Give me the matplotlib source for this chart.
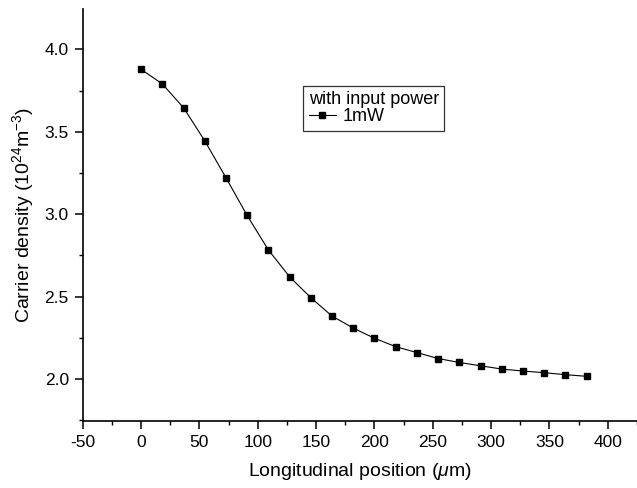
import matplotlib
matplotlib.use("Agg")
import matplotlib.pyplot as plt
from matplotlib.ticker import MultipleLocator

plt.rcParams['font.family'] = ['Liberation Sans', 'DejaVu Sans']
plt.rcParams['mathtext.fontset'] = 'custom'
plt.rcParams['mathtext.rm'] = 'Liberation Sans'
plt.rcParams['mathtext.it'] = 'Liberation Sans:italic'
plt.rcParams['axes.unicode_minus'] = False

position_um = [0, 18.2, 36.4, 54.5, 72.7, 90.9, 109.1, 127.3, 145.5, 163.6, 181.8,
               200.0, 218.2, 236.4, 254.5, 272.7, 290.9, 309.1, 327.3, 345.5, 363.6, 381.8]
carrier_density = [3.879, 3.790, 3.646, 3.446, 3.222, 2.992, 2.783, 2.620, 2.493, 2.382, 2.309,
                   2.247, 2.196, 2.160, 2.124, 2.100, 2.080, 2.060, 2.048, 2.038, 2.026, 2.016]
series_label = "1mW"
legend_title = "with input power"
x_ticks = [-50, 0, 50, 100, 150, 200, 250, 300, 350, 400]
y_ticks = [2.0, 2.5, 3.0, 3.5, 4.0]

fig = plt.figure(figsize=(6.37, 4.88), dpi=100)
ax = fig.add_axes([0.1298, 0.138, 0.8702, 0.843])

ax.plot(position_um, carrier_density, color='black', linewidth=0.8,
        marker='s', markersize=5.0, markerfacecolor='black', markeredgecolor='black',
        label=series_label)

ax.set_xlim(-50, 425)
ax.set_ylim(1.747, 4.243)
ax.set_xticks(x_ticks)
ax.set_yticks(y_ticks)
ax.set_yticklabels([f"{v:.1f}" for v in y_ticks])
ax.xaxis.set_minor_locator(MultipleLocator(25))
ax.yaxis.set_minor_locator(MultipleLocator(0.25))

for s in ['top', 'right']:
    ax.spines[s].set_visible(False)
for s in ['left', 'bottom']:
    ax.spines[s].set_linewidth(1.2)

ax.tick_params(axis='both', which='major', direction='out', length=6, width=1.1,
               labelsize=12.5, colors='black', pad=4)
ax.tick_params(axis='both', which='minor', direction='out', length=3, width=1.0)

ax.set_xlabel(r"Longitudinal position ($\mathit{\mu}$m)", fontsize=14, labelpad=8)
ax.set_ylabel(r"Carrier density (10$^{24}$m$^{-3}$)", fontsize=14, labelpad=6)

leg = ax.legend(title=legend_title, loc='upper left', bbox_to_anchor=(0.476, 0.824),
                bbox_transform=fig.transFigure, frameon=True, fancybox=False,
                edgecolor='black', fontsize=13, title_fontsize=13, handlelength=1.5,
                handletextpad=0.4, borderpad=0.3, labelspacing=0.0, alignment='left',
                borderaxespad=0)
leg.get_frame().set_linewidth(0.9)

fig.savefig("out.png", dpi=100)
